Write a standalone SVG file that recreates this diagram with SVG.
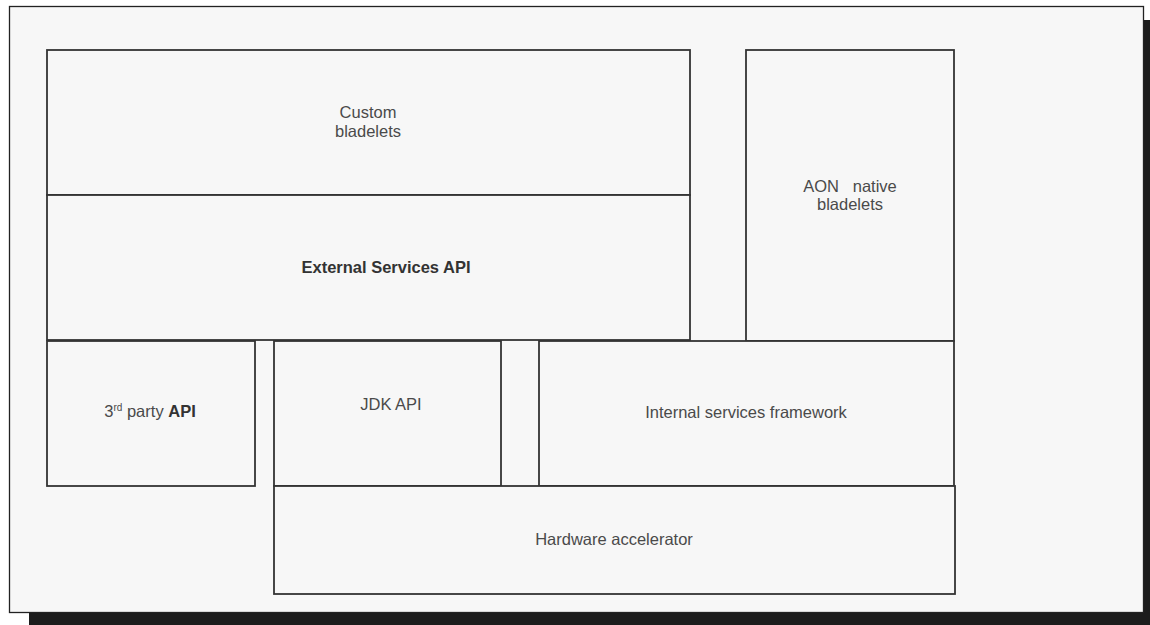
<svg xmlns="http://www.w3.org/2000/svg" width="1150" height="625" viewBox="0 0 1150 625">
<style>
.box{fill:#f7f7f7;stroke:#333;stroke-width:1.8}
.t{font-family:"Liberation Sans",Arial,sans-serif;font-size:16.5px;fill:#4a4a4a;text-anchor:middle}
.b{font-weight:bold;fill:#333}
</style>
<rect x="0" y="0" width="1150" height="625" fill="#ffffff"/>
<rect x="29" y="20" width="1121" height="605" fill="#1c1c1c"/>
<rect id="frame" x="9.5" y="6.5" width="1134" height="606" fill="#f7f7f7" stroke="#222" stroke-width="1.3"/>
<g id="custom"><rect class="box" x="47" y="50" width="643" height="145"/><text class="t" x="368" y="118">Custom</text><text class="t" x="368" y="137">bladelets</text></g>
<g id="external"><rect class="box" x="47" y="195" width="643" height="145"/><text class="t b" x="386" y="273">External Services API</text></g>
<g id="aon"><rect class="box" x="746" y="50" width="208" height="291"/><text class="t" x="850" y="192" xml:space="preserve">AON   native</text><text class="t" x="850" y="210">bladelets</text></g>
<g id="thirdparty"><rect class="box" x="47" y="341" width="208" height="145"/><text class="t" x="150" y="417">3<tspan font-size="10" dy="-6">rd</tspan><tspan dy="6"> party </tspan><tspan class="b">API</tspan></text></g>
<g id="jdk"><rect class="box" x="274" y="341" width="227" height="145"/><text class="t" x="391" y="410">JDK API</text></g>
<g id="internal"><rect class="box" x="539" y="341" width="415" height="145"/><text class="t" x="746" y="418">Internal services framework</text></g>
<g id="hardware"><rect class="box" x="274" y="486" width="681" height="108"/><text class="t" x="614" y="545">Hardware accelerator</text></g>
<g id="connectors"></g>
</svg>
